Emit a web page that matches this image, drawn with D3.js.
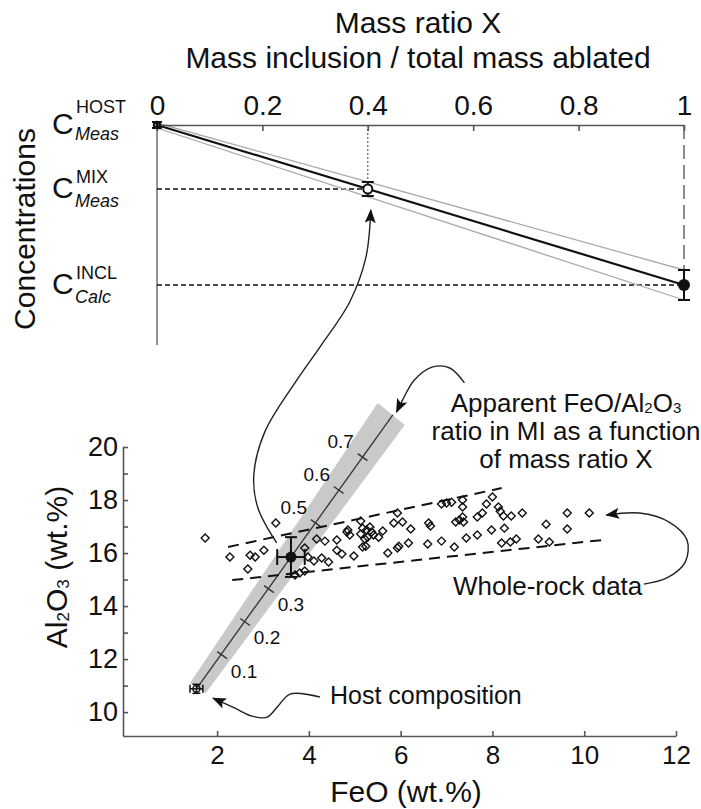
<!DOCTYPE html>
<meta charset="utf-8">
<title>Mass ratio X / FeO vs Al2O3</title>
<style>
body { margin: 0; background: #fff; }
svg { font-family: "Liberation Sans", Arial, Helvetica, sans-serif; fill: #111; }
.axis path, .axis line { stroke: #555; stroke-width: 1.6; }
.axis text { fill: #111; }
</style>
<body>
<div id="chart"></div>
<script src="https://d3js.org/d3.v7.min.js"></script>
<script>

// ---- top panel: concentration vs mass ratio X ----
var massRatio   = [0, 0.4, 1];
var concValue   = [100, 68, 20];     // host, mixture, inclusion (relative units)
var concError   = [1.5, 3.5, 7.5];
var concSup     = ["HOST", "MIX", "INCL"];
var concSub     = ["Meas", "Meas", "Calc"];
var topTicks    = [0, 0.2, 0.4, 0.6, 0.8, 1];

// ---- bottom panel: Al2O3 vs FeO ----
var hostPoint   = [1.55, 10.88];
var hostError   = [0.14, 0.17];
var miPoint     = [3.61, 15.85];
var miError     = [0.30, 0.75];
var mixLineEnd  = [5.83, 21.21];
var mixTickX    = [0.1, 0.2, 0.3, 0.5, 0.6, 0.7];
var mixTickFeO  = [2.11, 2.61, 3.13, 4.15, 4.65, 5.17];
var mixTickAl   = [12.15, 13.40, 14.64, 17.13, 18.38, 19.62];
var bandFeO     = [1.41, 5.50, 6.09, 1.75];
var bandAl      = [11.10, 21.66, 20.83, 10.71];
var envUpper    = [[2.24, 16.23], [8.20, 18.45]];
var envLower    = [[2.33, 14.98], [10.39, 16.49]];
var xTicks      = [2, 4, 6, 8, 10, 12];
var yTicks      = d3.range(10, 21);

var rockFeO = [1.74, 3.28, 2.28, 2.72, 2.83, 3.02, 2.67, 3.91, 4.17, 4.35,
               4.61, 4.61, 3.98, 4.11, 4.28, 4.43, 3.70, 3.80, 3.91, 4.72,
               4.83, 5.13, 5.93, 5.85, 6.04, 6.22, 6.61, 6.65, 6.89, 7.00,
               7.11, 7.35, 7.35, 7.20, 7.28, 7.35, 7.37, 7.67, 4.85, 4.89,
               5.13, 5.17, 5.26, 5.33, 5.37, 5.41, 5.28, 5.22, 5.52, 5.61,
               4.98, 5.17, 5.24, 5.72, 5.93, 5.96, 6.17, 6.59, 6.89, 7.17,
               7.43, 7.67, 8.00, 7.87, 7.78, 8.13, 8.17, 8.24, 8.41, 8.65,
               7.98, 8.26, 8.20, 8.39, 8.52, 9.00, 9.17, 9.24, 9.63, 9.63,
               10.11];
var rockAl  = [16.57, 17.13, 15.85, 15.92, 15.85, 16.11, 15.40, 16.19, 16.53, 16.45,
               16.49, 16.11, 15.85, 15.70, 15.81, 15.66, 15.17, 15.25, 15.32, 15.96,
               16.79, 17.21, 17.51, 17.13, 17.17, 16.91, 17.13, 17.02, 17.85, 17.89,
               17.92, 18.00, 17.74, 17.17, 17.25, 17.36, 17.17, 17.36, 16.87, 16.68,
               16.72, 16.94, 16.87, 16.98, 16.79, 16.68, 16.60, 16.53, 16.60, 16.83,
               15.89, 16.23, 16.26, 16.00, 16.19, 16.26, 16.38, 16.34, 16.45, 16.23,
               16.57, 16.68, 18.11, 17.85, 17.51, 17.74, 17.58, 17.40, 17.40, 17.51,
               16.87, 16.94, 16.38, 16.42, 16.53, 16.53, 17.09, 16.42, 17.51, 16.91,
               17.51];

// annotation arrow paths, in FeO / Al2O3 units
var arrowToTop   = [[3.30, 16.38], [2.89, 17.70], [2.80, 18.94], [3.04, 20.57], [3.74, 22.53],
                    [4.24, 23.77], [4.89, 25.47], [5.24, 27.13], [5.35, 28.94]];
var arrowApparent = [[7.39, 22.42], [7.07, 22.98], [6.70, 23.02], [6.30, 22.53], [6.04, 21.77], [5.91, 21.32]];
var arrowRock    = [[11.30, 14.83], [11.80, 15.06], [12.20, 15.66], [12.24, 16.49], [11.85, 17.17], [11.20, 17.51], [10.48, 17.43]];
var arrowHost    = [[4.24, 10.57], [3.59, 10.68], [3.33, 10.23], [3.09, 9.81], [2.76, 9.85], [2.39, 10.15], [1.91, 10.53]];

var width = 701, height = 809;

var svg = d3.select("#chart").append("svg")
    .attr("width", width)
    .attr("height", height);

svg.append("defs").append("marker")
    .attr("id", "head")
    .attr("viewBox", "0 0 14 11")
    .attr("refX", 13).attr("refY", 5.5)
    .attr("markerWidth", 14).attr("markerHeight", 11)
    .attr("markerUnits", "userSpaceOnUse")
    .attr("orient", "auto")
  .append("path")
    .attr("d", "M0,0L14,5.5L0,11L3,5.5z")
    .attr("fill", "#111");

// scales
var xTop = d3.scaleLinear().domain([0, 1]).range([157, 684]);
var yTop = d3.scaleLinear().domain([-10, 100]).range([345, 125]);
var x = d3.scaleLinear().domain([-0.05, 12]).range([123, 676]);
var y = d3.scaleLinear().domain([9.1, 20]).range([736, 447]);

// ================= top panel =================
svg.append("text").attr("x", 418).attr("y", 33)
    .attr("text-anchor", "middle").attr("font-size", 30).text("Mass ratio X");
svg.append("text").attr("x", 418).attr("y", 68)
    .attr("text-anchor", "middle").attr("font-size", 30).text("Mass inclusion / total mass ablated");

svg.append("text")
    .attr("transform", "translate(35," + 229 + ") rotate(-90)")
    .attr("text-anchor", "middle").attr("font-size", 30).text("Concentrations");

// left vertical line
svg.append("line")
    .attr("x1", xTop(0)).attr("x2", xTop(0))
    .attr("y1", yTop(100)).attr("y2", yTop(-10))
    .attr("stroke", "#777").attr("stroke-width", 1.6);

// guides
svg.append("line")
    .attr("x1", xTop(0)).attr("x2", xTop(massRatio[1]))
    .attr("y1", yTop(concValue[1])).attr("y2", yTop(concValue[1]))
    .attr("stroke", "#111").attr("stroke-width", 1.5).attr("stroke-dasharray", "5,3");
svg.append("line")
    .attr("x1", xTop(0)).attr("x2", xTop(massRatio[2]))
    .attr("y1", yTop(concValue[2])).attr("y2", yTop(concValue[2]))
    .attr("stroke", "#111").attr("stroke-width", 1.5).attr("stroke-dasharray", "5,3");
svg.append("line")
    .attr("x1", xTop(massRatio[1])).attr("x2", xTop(massRatio[1]))
    .attr("y1", yTop(100)).attr("y2", yTop(concValue[1] + concError[1]))
    .attr("stroke", "#444").attr("stroke-width", 1).attr("stroke-dasharray", "2,2");
svg.append("line")
    .attr("x1", xTop(massRatio[2])).attr("x2", xTop(massRatio[2]))
    .attr("y1", yTop(100)).attr("y2", yTop(concValue[2] + concError[2]))
    .attr("stroke", "#666").attr("stroke-width", 1.5).attr("stroke-dasharray", "14,6");

// grey uncertainty lines
svg.append("line")
    .attr("x1", xTop(0)).attr("y1", yTop(concValue[0] + 1))
    .attr("x2", xTop(1)).attr("y2", yTop(concValue[2] + concError[2]))
    .attr("stroke", "#aaa").attr("stroke-width", 1.3);
svg.append("line")
    .attr("x1", xTop(0)).attr("y1", yTop(concValue[0] - 1.5))
    .attr("x2", xTop(1)).attr("y2", yTop(concValue[2] - concError[2]))
    .attr("stroke", "#aaa").attr("stroke-width", 1.3);

// mixing line
svg.append("line")
    .attr("x1", xTop(massRatio[0])).attr("y1", yTop(concValue[0]))
    .attr("x2", xTop(massRatio[2])).attr("y2", yTop(concValue[2]))
    .attr("stroke", "#111").attr("stroke-width", 2.2);

// top axis
var topAxis = svg.append("g").attr("class", "axis")
    .attr("transform", "translate(0," + yTop(100) + ")")
    .call(d3.axisTop(xTop).tickValues(topTicks).tickFormat(function(d) { return d; })
        .tickSizeInner(-6).tickSizeOuter(0).tickPadding(10));
topAxis.attr("font-size", null).attr("font-family", null);
topAxis.selectAll("text").attr("font-size", 28);

// error bars and points
var capW = [5, 6, 6];
massRatio.forEach(function(m, i) {
    var cx = xTop(m);
    var g = svg.append("g").attr("stroke", "#111").attr("stroke-width", 2);
    g.append("line").attr("x1", cx).attr("x2", cx)
        .attr("y1", yTop(concValue[i] + concError[i])).attr("y2", yTop(concValue[i] - concError[i]));
    [concValue[i] + concError[i], concValue[i] - concError[i]].forEach(function(v) {
        g.append("line").attr("x1", cx - capW[i]).attr("x2", cx + capW[i])
            .attr("y1", yTop(v)).attr("y2", yTop(v));
    });
});
svg.append("circle").attr("cx", xTop(massRatio[0])).attr("cy", yTop(concValue[0])).attr("r", 3)
    .attr("fill", "none").attr("stroke", "#111").attr("stroke-width", 2.5);
svg.append("circle").attr("cx", xTop(massRatio[1])).attr("cy", yTop(concValue[1])).attr("r", 4.5)
    .attr("fill", "#fff").attr("stroke", "#111").attr("stroke-width", 2);
svg.append("circle").attr("cx", xTop(massRatio[2])).attr("cy", yTop(concValue[2])).attr("r", 6)
    .attr("fill", "#111");

// C labels
var supShift = [-12, -6, -6];
var subShift = [15, 18, 18];
concValue.forEach(function(v, i) {
    var ly = yTop(v);
    svg.append("text").attr("x", 52).attr("y", ly + 9).attr("font-size", 30).text("C");
    svg.append("text").attr("x", 76).attr("y", ly + supShift[i]).attr("font-size", 18).text(concSup[i]);
    svg.append("text").attr("x", 75).attr("y", ly + subShift[i]).attr("font-size", 18)
        .attr("font-style", "italic").text(concSub[i]);
});

// ================= bottom panel =================
// grey band
svg.append("path")
    .attr("d", d3.line()(bandFeO.map(function(d, i) { return [x(d), y(bandAl[i])]; })) + "Z")
    .attr("fill", "#c9c9c9");

// mixing line
svg.append("line")
    .attr("x1", x(hostPoint[0])).attr("y1", y(hostPoint[1]))
    .attr("x2", x(mixLineEnd[0])).attr("y2", y(mixLineEnd[1]))
    .attr("stroke", "#333").attr("stroke-width", 1.3);

var dx = x(mixLineEnd[0]) - x(hostPoint[0]), dy = y(mixLineEnd[1]) - y(hostPoint[1]);
var len = Math.sqrt(dx * dx + dy * dy);
var ux = dx / len, uy = dy / len;      // along line
var px = -uy, py = ux;                 // perpendicular (right/down)

mixTickX.forEach(function(t, i) {
    var tx = x(mixTickFeO[i]), ty = y(mixTickAl[i]);
    svg.append("line")
        .attr("x1", tx - px * 6).attr("y1", ty - py * 6)
        .attr("x2", tx + px * 6).attr("y2", ty + py * 6)
        .attr("stroke", "#333").attr("stroke-width", 1.4);
    var s = t < 0.4 ? 27 : -27;
    svg.append("text")
        .attr("x", tx + px * s).attr("y", ty + py * s)
        .attr("dy", "0.35em").attr("text-anchor", "middle")
        .attr("font-size", 19).text(t);
});

// whole-rock envelope
[envUpper, envLower].forEach(function(e) {
    svg.append("line")
        .attr("x1", x(e[0][0])).attr("y1", y(e[0][1]))
        .attr("x2", x(e[1][0])).attr("y2", y(e[1][1]))
        .attr("stroke", "#111").attr("stroke-width", 2).attr("stroke-dasharray", "11,7");
});

// whole-rock diamonds
var r = 4;
svg.append("g").selectAll("path")
    .data(rockFeO)
    .enter().append("path")
    .attr("transform", function(d, i) { return "translate(" + x(d) + "," + y(rockAl[i]) + ")"; })
    .attr("d", "M0," + (-r) + "L" + r + ",0L0," + r + "L" + (-r) + ",0Z")
    .attr("fill", "none").attr("stroke", "#111").attr("stroke-width", 1.4);

// axes
var yAxis = svg.append("g").attr("class", "axis")
    .attr("transform", "translate(" + x(-0.05) + ",0)")
    .call(d3.axisLeft(y).tickValues(yTicks)
        .tickFormat(function(d) { return d % 2 === 0 ? d : ""; })
        .tickSizeInner(-5).tickSizeOuter(0).tickPadding(5));
yAxis.attr("font-size", null).attr("font-family", null);
yAxis.selectAll("text").attr("font-size", 27);

var xAxis = svg.append("g").attr("class", "axis")
    .attr("transform", "translate(0," + y(9.1) + ")")
    .call(d3.axisBottom(x).tickValues(xTicks)
        .tickSizeInner(-5).tickSizeOuter(0).tickPadding(10));
xAxis.attr("font-size", null).attr("font-family", null);
xAxis.selectAll("text").attr("font-size", 26);

svg.append("text").attr("x", 406).attr("y", 802)
    .attr("text-anchor", "middle").attr("font-size", 30).text("FeO (wt.%)");

var yl = svg.append("text")
    .attr("transform", "translate(67,567) rotate(-90)")
    .attr("text-anchor", "middle").attr("font-size", 30);
yl.append("tspan").text("Al");
yl.append("tspan").attr("font-size", 17).attr("dy", 2).text("2");
yl.append("tspan").attr("dy", -2).text("O");
yl.append("tspan").attr("font-size", 17).attr("dy", 2).text("3");
yl.append("tspan").attr("dy", -2).text(" (wt.%)");

// host point
var hx = x(hostPoint[0]), hy = y(hostPoint[1]);
var hg = svg.append("g").attr("stroke", "#111").attr("stroke-width", 1.5).attr("fill", "none");
hg.append("line").attr("x1", x(hostPoint[0] - hostError[0])).attr("x2", x(hostPoint[0] + hostError[0]))
    .attr("y1", hy).attr("y2", hy);
hg.append("line").attr("x1", hx).attr("x2", hx)
    .attr("y1", y(hostPoint[1] - hostError[1])).attr("y2", y(hostPoint[1] + hostError[1]));
[hostPoint[0] - hostError[0], hostPoint[0] + hostError[0]].forEach(function(v) {
    hg.append("line").attr("x1", x(v)).attr("x2", x(v)).attr("y1", hy - 4).attr("y2", hy + 4);
});
[hostPoint[1] - hostError[1], hostPoint[1] + hostError[1]].forEach(function(v) {
    hg.append("line").attr("x1", hx - 4).attr("x2", hx + 4).attr("y1", y(v)).attr("y2", y(v));
});
hg.append("circle").attr("cx", hx).attr("cy", hy).attr("r", 3.5);

// melt inclusion point
var mx = x(miPoint[0]), my = y(miPoint[1]);
var mg = svg.append("g").attr("stroke", "#111").attr("stroke-width", 2);
mg.append("line").attr("x1", x(miPoint[0] - miError[0])).attr("x2", x(miPoint[0] + miError[0]))
    .attr("y1", my).attr("y2", my);
mg.append("line").attr("x1", mx).attr("x2", mx)
    .attr("y1", y(miPoint[1] - miError[1])).attr("y2", y(miPoint[1] + miError[1]));
[miPoint[0] - miError[0], miPoint[0] + miError[0]].forEach(function(v) {
    mg.append("line").attr("x1", x(v)).attr("x2", x(v)).attr("y1", my - 8).attr("y2", my + 8);
});
[miPoint[1] - miError[1], miPoint[1] + miError[1]].forEach(function(v) {
    mg.append("line").attr("x1", mx - 6).attr("x2", mx + 6).attr("y1", y(v)).attr("y2", y(v));
});
svg.append("circle").attr("cx", mx).attr("cy", my).attr("r", 5.5).attr("fill", "#111");

// annotation arrows
var curve = d3.line()
    .x(function(d) { return x(d[0]); })
    .y(function(d) { return y(d[1]); })
    .curve(d3.curveCatmullRom.alpha(0.5));

[arrowToTop, arrowApparent, arrowRock, arrowHost].forEach(function(a) {
    svg.append("path")
        .attr("d", curve(a))
        .attr("fill", "none").attr("stroke", "#222").attr("stroke-width", 1.4)
        .attr("marker-end", "url(#head)");
});

// annotation texts
var ap = svg.append("g").attr("font-size", 26).attr("text-anchor", "middle");
var t1 = ap.append("text").attr("x", 566).attr("y", 412);
t1.append("tspan").text("Apparent FeO/Al");
t1.append("tspan").attr("font-size", 15).attr("dy", 1).text("2");
t1.append("tspan").attr("dy", -1).text("O");
t1.append("tspan").attr("font-size", 15).attr("dy", 1).text("3");
ap.append("text").attr("x", 566).attr("y", 440).text("ratio in MI as a function");
ap.append("text").attr("x", 566).attr("y", 468).text("of mass ratio X");

svg.append("text").attr("x", 453).attr("y", 595).attr("font-size", 26).text("Whole-rock data");
svg.append("text").attr("x", 330).attr("y", 704).attr("font-size", 25).text("Host composition");

</script>
</body>
